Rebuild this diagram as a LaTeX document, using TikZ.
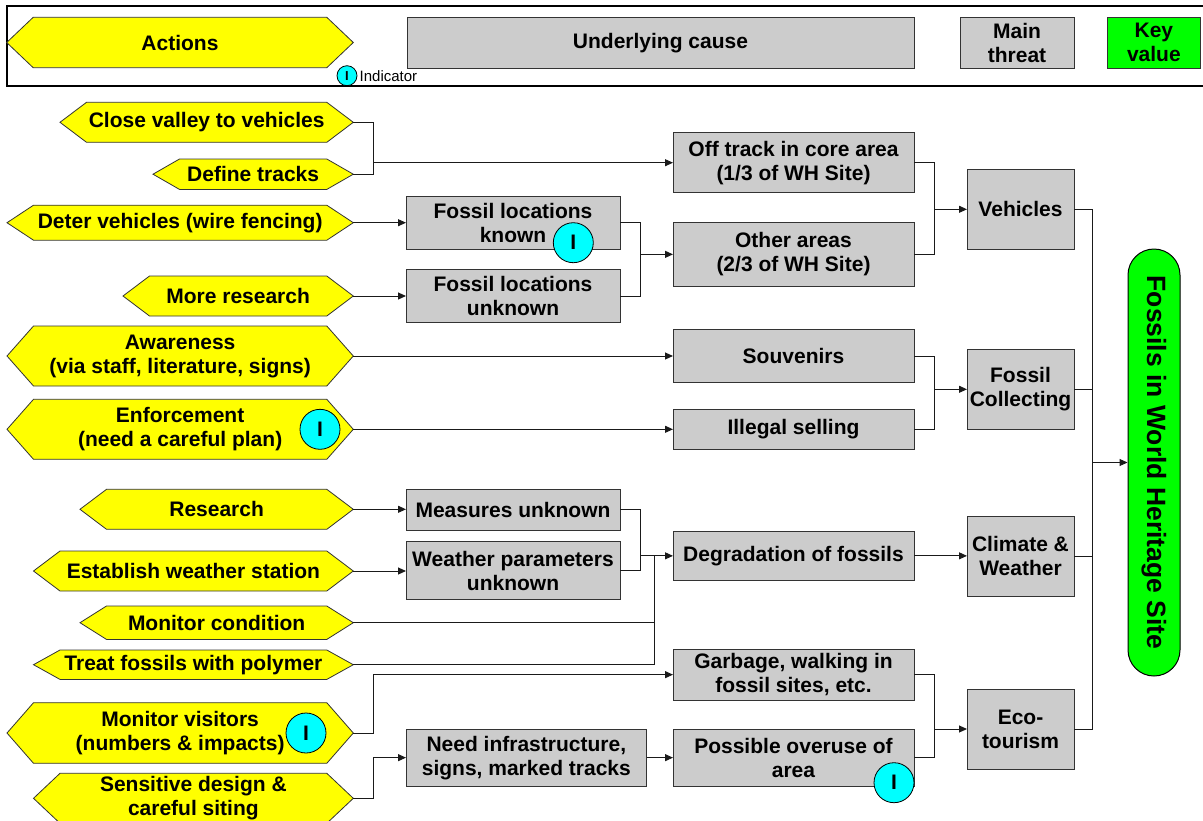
\documentclass[tikz,border=0pt]{standalone}
\usepackage{fontspec}
\setmainfont{Liberation Sans}
\usetikzlibrary{arrows.meta}

\definecolor{actyellow}{HTML}{FFFF00}
\definecolor{causegrey}{HTML}{CCCCCC}
\definecolor{keygreen}{HTML}{00FF00}
\definecolor{indcyan}{HTML}{00FFFF}
\definecolor{edgegrey}{HTML}{333333}
\definecolor{wire}{HTML}{1A1A1A}

\newcommand\lblfont{\fontsize{21}{24}\selectfont\bfseries}

% action hexagon: name, left tip x, right tip x, centre y, half height, text
\newcommand\hexnode[6]{%
  \path[hexfill] (#2,#4) -- ({#2+26.5},{#4-#5}) -- ({#3-26.5},{#4-#5}) -- (#3,#4)
    -- ({#3-26.5},{#4+#5}) -- ({#2+26.5},{#4+#5}) -- cycle;
  \node[hextext, minimum width={#3-#2}, minimum height={2*#5}] (#1) at ({(#2+#3)/2},#4) {#6};
}
% cause / threat box: name, x left, x right, y top, y bottom, text
\newcommand\boxnode[6]{%
  \node[causebox, minimum width={#3-#2}, minimum height={#5-#4}] (#1) at ({(#2+#3)/2},{(#4+#5)/2}) {#6};
}

\begin{document}
\begin{tikzpicture}[x=1pt, y=-1pt,
  hexfill/.style={fill=actyellow, draw=edgegrey, line width=0.8pt},
  hextext/.style={inner sep=0pt, outer sep=0pt, align=center, font=\lblfont},
  causebox/.style={draw=edgegrey, fill=causegrey, line width=1pt, inner sep=0pt, outer sep=0pt, align=center, font=\lblfont},
  keybox/.style={causebox, fill=keygreen},
  indicator/.style={circle, draw=black, fill=indcyan, line width=0.8pt, minimum size=40pt, inner sep=0pt, font=\lblfont},
  smallind/.style={indicator, minimum size=20pt, font=\fontsize{13}{13}\selectfont\bfseries},
  link/.style={draw=wire, line width=1pt},
  arrowlink/.style={link, -{Triangle[length=8pt, width=7pt]}},
  pill/.style={draw=black, fill=keygreen, line width=1pt, rounded corners=26pt, minimum width=52pt, minimum height=427pt, inner sep=0pt, font=\fontsize{26.5}{30}\selectfont\bfseries}
]
\useasboundingbox (0,0) rectangle (1203,820);

% ---------- key ----------
\draw[line width=2.2pt, black] (6.7,5.7) rectangle (1210,85.7);
\hexnode{keyaction}{6.7}{353.3}{42.5}{25.2}{Actions}
\boxnode{keycause}{407}{914}{17.3}{68}{Underlying cause}
\boxnode{keythreat}{960}{1074}{17.3}{68}{Main\\threat}
\node[keybox, minimum width=93.7pt, minimum height=50.7pt] (keyvalue) at (1153.85,42.65) {Key\\value};
\node[smallind] (keyind) at (347,75.7) {I};
\node[anchor=west, inner sep=0pt, font=\fontsize{15}{15}\selectfont] (keyindtext) at (359.5,76) {Indicator};

% ---------- actions ----------
\hexnode{cv}{60}{353.3}{122.3}{20}{Close valley to vehicles}
\hexnode{dt}{153}{353.3}{174.2}{15.2}{Define tracks}
\hexnode{dv}{7}{353.3}{222.7}{17.5}{Deter vehicles (wire fencing)}
\hexnode{mr}{123}{353.3}{296}{20}{More research}
\hexnode{aw}{7}{353.3}{356}{30}{Awareness\\(via staff, literature, signs)}
\hexnode{en}{7}{353.3}{429.3}{30}{Enforcement\\(need a careful plan)}
\hexnode{rs}{80}{353.3}{509.3}{20}{Research}
\hexnode{ew}{33.5}{353.3}{571}{20}{Establish weather station}
\hexnode{mc}{80}{353.3}{622.7}{16.7}{Monitor condition}
\hexnode{tf}{33.5}{353.3}{664.7}{14.7}{Treat fossils with polymer}
\hexnode{mv}{7}{353.3}{733}{30.3}{Monitor visitors\\(numbers \& impacts)}
\hexnode{sd}{33.5}{353.3}{798.3}{25}{Sensitive design \&\\careful siting}

% ---------- underlying causes ----------
\boxnode{known}{406}{620}{196}{249.3}{Fossil locations\\known}
\boxnode{unk}{406}{620}{269.3}{322.7}{Fossil locations\\unknown}
\boxnode{off}{673}{914}{132.7}{192.7}{Off track in core area\\(1/3 of WH Site)}
\boxnode{oth}{673}{914}{222.7}{286}{Other areas\\(2/3 of WH Site)}
\boxnode{souv}{673}{914}{329.3}{382.7}{Souvenirs}
\boxnode{ill}{673}{914}{409.3}{449.3}{Illegal selling}
\boxnode{meas}{406}{620}{489}{530}{Measures unknown}
\boxnode{wea}{406}{620}{541.7}{599.3}{Weather parameters\\unknown}
\boxnode{deg}{673}{914}{531.7}{580}{Degradation of fossils}
\boxnode{garb}{673}{914}{649.3}{700}{Garbage, walking in\\fossil sites, etc.}
\boxnode{need}{406}{646.7}{729.3}{786}{Need infrastructure,\\signs, marked tracks}
\boxnode{over}{673}{914}{729.3}{786}{Possible overuse of\\area}

% ---------- main threats ----------
\boxnode{veh}{967}{1074}{169.3}{249.3}{Vehicles}
\boxnode{fc}{967}{1074}{349.3}{429.3}{Fossil\\Collecting}
\boxnode{cw}{967}{1074}{516}{596}{Climate \&\\Weather}
\boxnode{eco}{967}{1074}{689}{769}{Eco-\\tourism}

% ---------- key value ----------
\node[pill] (site) at (1154,462.5) {\rotatebox{-90}{Fossils in World Heritage Site}};

% ---------- indicators ----------
\node[indicator] (indknown) at (573.3,242.7) {I};
\node[indicator] (inden) at (320,429.3) {I};
\node[indicator] (indmv) at (306,733) {I};
\node[indicator] (indover) at (894,782.7) {I};

% ---------- connectors ----------
% vehicles
\coordinate (j0) at ([xshift=-300pt]off.west);
\draw[link] (cv.east) -- (cv.east -| j0) |- (dt.east);
\draw[arrowlink] (j0) -- (off.west);
\draw[arrowlink] (dv.east) -- (dv.east -| known.west);
\draw[arrowlink] (mr.east) -- (mr.east -| unk.west);
\coordinate (j1) at ([xshift=-33pt]oth.west);
\draw[link] (known.east) -- (known.east -| j1) |- (unk.east);
\draw[arrowlink] (j1) -- (oth.west);
\coordinate (j2) at ([xshift=-33pt]veh.west);
\draw[link] (off.east) -- (off.east -| j2) |- (oth.east);
\draw[arrowlink] (j2) -- (veh.west);
% fossil collecting
\draw[arrowlink] (aw.east) -- (aw.east -| souv.west);
\draw[arrowlink] (en.east) -- (en.east -| ill.west);
\coordinate (j3) at ([xshift=-33pt]fc.west);
\draw[link] (souv.east) -- (souv.east -| j3) |- (ill.east);
\draw[arrowlink] (j3) -- (fc.west);
% climate and weather
\draw[arrowlink] (rs.east) -- (rs.east -| meas.west);
\draw[arrowlink] (ew.east) -- (ew.east -| wea.west);
\coordinate (j4) at ([xshift=-33pt]deg.west);
\coordinate (j5) at ([xshift=-19pt]deg.west);
\draw[link] (meas.east) -- (meas.east -| j4) |- (wea.east);
\draw[arrowlink] (j4) -- (deg.west);
\draw[link] (j5) |- (tf.east);
\draw[link] (mc.east) -- (mc.east -| j5);
\draw[arrowlink] (deg.east) -- (deg.east -| cw.west);
% eco-tourism
\draw[arrowlink] (mv.east) -- ++(20,0) |- (garb.west);
\draw[arrowlink] (sd.east) -- ++(20,0) |- (need.west);
\draw[arrowlink] (need.east) -- (need.east -| over.west);
\coordinate (j6) at ([xshift=-33pt]eco.west);
\draw[link] (garb.east) -- (garb.east -| j6) |- (over.east);
\draw[arrowlink] (j6) -- (eco.west);
% threats to the key value
\coordinate (j7) at ([xshift=-35pt]site.west);
\draw[link] (veh.east) -- (veh.east -| j7) |- (eco.east);
\draw[link] (fc.east) -- (fc.east -| j7);
\draw[link] (cw.east) -- (cw.east -| j7);
\draw[arrowlink] (j7) -- (site.west);
\end{tikzpicture}
\end{document}
